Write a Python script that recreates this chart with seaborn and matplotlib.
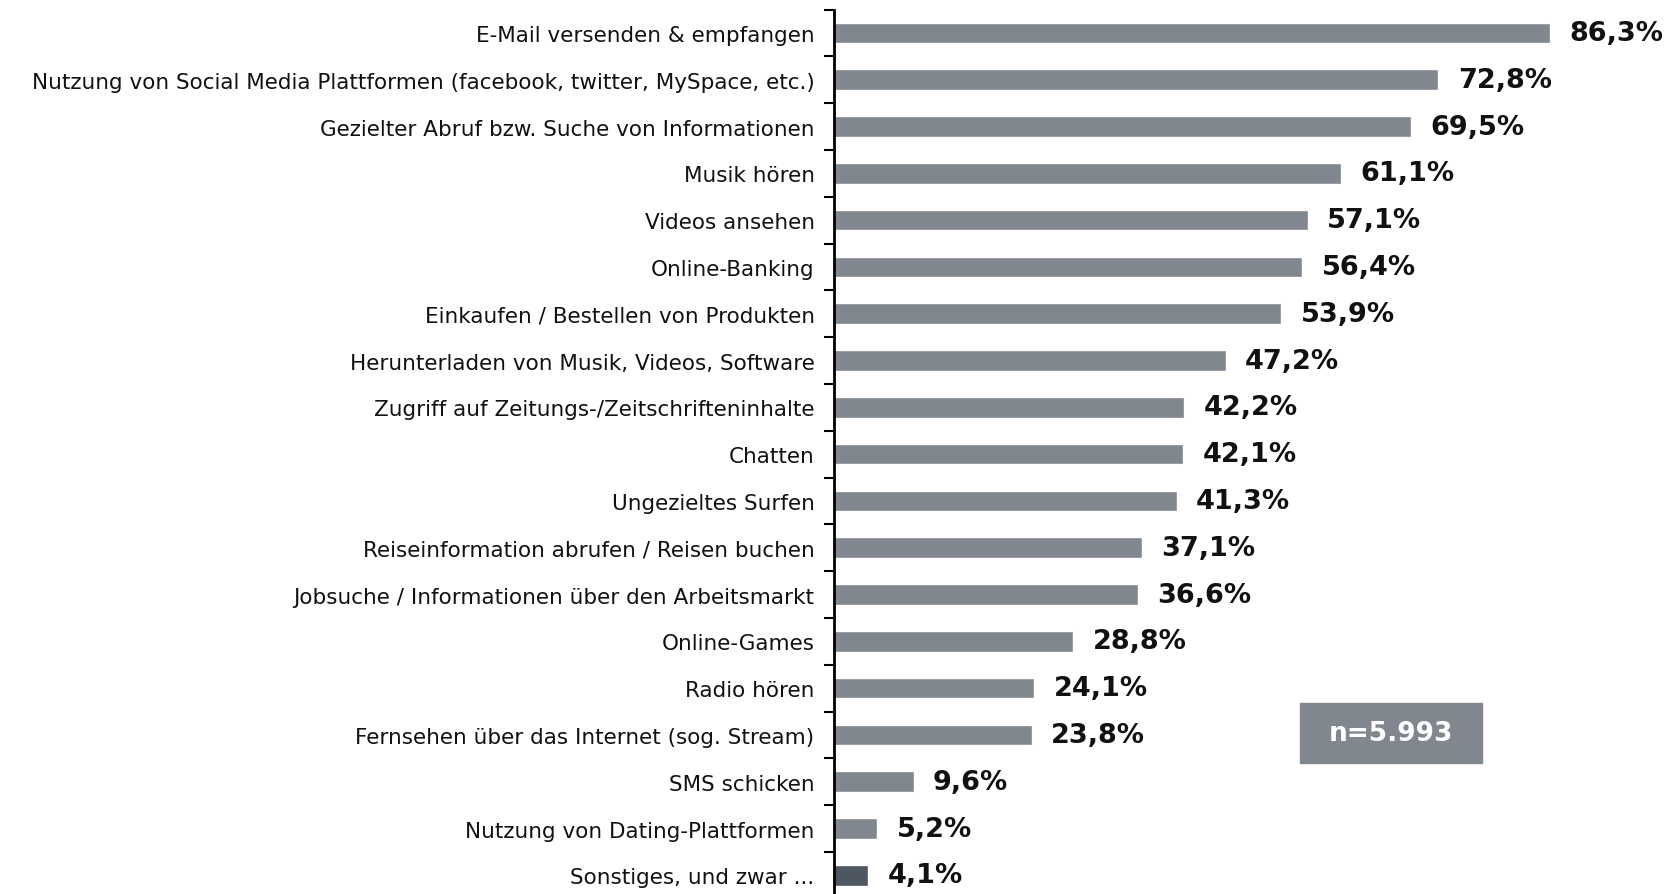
import pandas as pd
import numpy as np
import seaborn as sns
from matplotlib import pyplot as plt
from matplotlib.patches import Rectangle

sns.set_style('white')
plt.rcParams['font.family'] = ['DejaVu Sans']

categories = [
    'E-Mail versenden & empfangen',
    'Nutzung von Social Media Plattformen (facebook, twitter, MySpace, etc.)',
    'Gezielter Abruf bzw. Suche von Informationen',
    'Musik hören',
    'Videos ansehen',
    'Online-Banking',
    'Einkaufen / Bestellen von Produkten',
    'Herunterladen von Musik, Videos, Software',
    'Zugriff auf Zeitungs-/Zeitschrifteninhalte',
    'Chatten',
    'Ungezieltes Surfen',
    'Reiseinformation abrufen / Reisen buchen',
    'Jobsuche / Informationen über den Arbeitsmarkt',
    'Online-Games',
    'Radio hören',
    'Fernsehen über das Internet (sog. Stream)',
    'SMS schicken',
    'Nutzung von Dating-Plattformen',
    'Sonstiges, und zwar ...',
]
values = [86.3, 72.8, 69.5, 61.1, 57.1, 56.4, 53.9, 47.2, 42.2, 42.1,
          41.3, 37.1, 36.6, 28.8, 24.1, 23.8, 9.6, 5.2, 4.1]
sample_label = 'n=5.993'

df = pd.DataFrame({'kategorie': categories, 'anteil': values})

bar_col = '#80878f'
dark_col = '#4e5761'
pal = [bar_col] * (len(categories) - 1) + [dark_col]

fig = plt.figure(figsize=(16.75, 8.95), dpi=100)
ax = fig.add_axes([0.4979, -0.0053, 0.4955, 0.9935])

sns.barplot(data=df, x='anteil', y='kategorie', hue='kategorie', palette=pal,
            legend=False, width=0.44, orient='h', ax=ax, saturation=1)

ax.set_xlim(0, 100)
ax.set_ylim(len(categories) - 0.5, -0.5)
ax.set_xlabel('')
ax.set_ylabel('')
ax.set_xticks([])

for s in ['top', 'right', 'bottom']:
    ax.spines[s].set_visible(False)
ax.spines['left'].set_color('black')
ax.spines['left'].set_linewidth(2)

ax.tick_params(axis='y', which='major', length=0, pad=14, labelsize=15.5,
               labelcolor='#111111')
ax.set_yticks(np.arange(-0.5, len(categories), 1), minor=True)
ax.tick_params(axis='y', which='minor', length=7, width=1.5, color='black',
               left=True)

for i, v in enumerate(values):
    ax.annotate(f'{v:.1f}%'.replace('.', ','), xy=(v, i), xytext=(14, 0),
                textcoords='offset points', va='center', ha='left',
                fontsize=19.5, fontweight='bold', color='#111111')

fig.patches.append(Rectangle((0.776, 0.1464), 0.1087, 0.067,
                             transform=fig.transFigure, color=bar_col,
                             zorder=3))
fig.text(0.776 + 0.1087 / 2, 0.1464 + 0.067 / 2, sample_label,
         ha='center', va='center', color='white', fontsize=19,
         fontweight='bold', zorder=4)

fig.savefig('out.png', dpi=100)
